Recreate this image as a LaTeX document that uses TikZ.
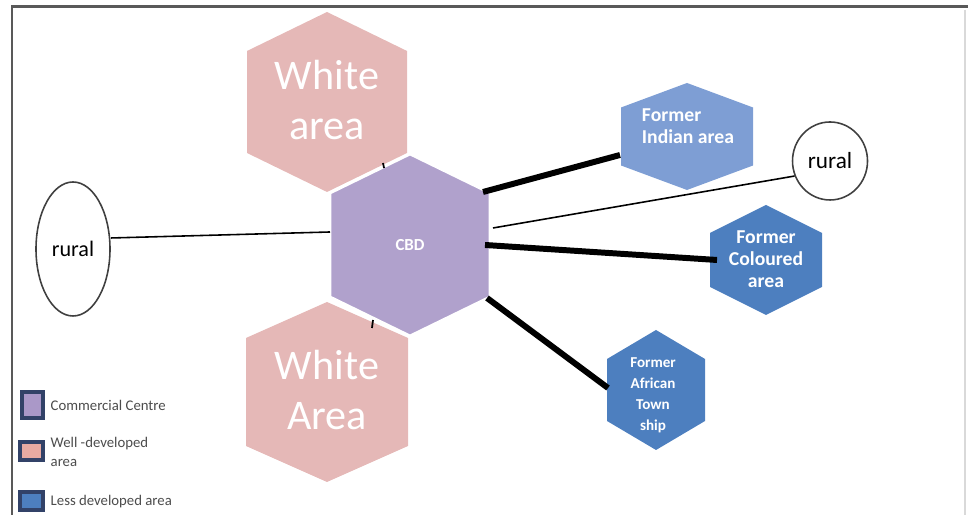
\documentclass[tikz,border=0pt]{standalone}
\usepackage{fontspec}
\setmainfont{Carlito}
\usetikzlibrary{shapes.geometric}
\definecolor{pinkarea}{RGB}{229,184,183}
\definecolor{cbdpurple}{RGB}{176,161,204}
\definecolor{lightblue}{RGB}{126,158,212}
\definecolor{darkblue}{RGB}{77,127,191}
\definecolor{keyborder}{RGB}{50,66,104}
\definecolor{keypink}{RGB}{232,170,162}
\definecolor{keypurple}{RGB}{170,152,200}
\begin{document}
\begin{tikzpicture}[
    bigtext/.style={text=white, align=center, font=\fontsize{12}{14.2}\selectfont},
    celltext/.style={text=white, font=\bfseries\fontsize{5.6}{6.3}\selectfont},
    smalltext/.style={text=white, align=center, font=\bfseries\fontsize{4.3}{6}\selectfont},
    ruraltext/.style={draw=black!75, line width=0.45pt, inner sep=0pt},
    thinlink/.style={line width=0.45pt},
    thicklink/.style={line width=1.7pt},
    keybox/.style={draw=keyborder, line width=0.9pt, inner sep=0pt},
    keytext/.style={text=black!70, align=left, inner sep=0pt, font=\fontsize{4.2}{5.6}\selectfont}
  ]
  \useasboundingbox (0,0) rectangle (9.68,5.15);
  \draw [black!65, line width=0.6pt] (0.12,0) -- (0.12,5.085) -- (9.68,5.085);
  \draw [black!15, line width=0.4pt] (9.65,5.05) -- (9.65,0);

  \fill [pinkarea] (3.27,4.13) +(0,0.9) -- +(0.8,0.51) -- +(0.8,-0.51) -- +(0,-0.9) -- +(-0.8,-0.51) -- +(-0.8,0.51) -- cycle;
  \node [bigtext] (whitetop) at (3.27,4.15) {White\\area};
  \fill [pinkarea] (3.27,1.23) +(0,0.9) -- +(0.81,0.54) -- +(0.81,-0.54) -- +(0,-0.9) -- +(-0.81,-0.54) -- +(-0.81,0.54) -- cycle;
  \node [bigtext] (whitebottom) at (3.27,1.25) {White\\Area};

  \filldraw [fill=cbdpurple, draw=white, line width=0.8pt] (4.10,2.70) +(0,0.91) -- +(0.8,0.52) -- +(0.8,-0.52) -- +(0,-0.91) -- +(-0.8,-0.52) -- +(-0.8,0.52) -- cycle;
  \node [text=white, font=\bfseries\fontsize{4.8}{5.5}\selectfont] (cbd) at (4.10,2.70) {CBD};

  \fill [lightblue] (6.87,3.785) +(0,0.535) -- +(0.66,0.29) -- +(0.66,-0.29) -- +(0,-0.535) -- +(-0.66,-0.29) -- +(-0.66,0.29) -- cycle;
  \node [celltext, align=left] (indian) at (6.88,3.885) {Former\\Indian area};
  \fill [darkblue] (7.66,2.55) +(0,0.55) -- +(0.56,0.27) -- +(0.56,-0.27) -- +(0,-0.55) -- +(-0.56,-0.27) -- +(-0.56,0.27) -- cycle;
  \node [celltext, align=center] (coloured) at (7.66,2.56) {Former\\Coloured\\area};
  \fill [darkblue] (6.56,1.25) +(0,0.6) -- +(0.49,0.31) -- +(0.49,-0.31) -- +(0,-0.6) -- +(-0.49,-0.31) -- +(-0.49,0.31) -- cycle;
  \node [smalltext] (african) at (6.53,1.20) {Former\\African\\Town\\ship};

  \node [ruraltext, ellipse, minimum width=0.74cm, minimum height=1.34cm, font=\fontsize{6.3}{7}\selectfont] (ruralwest) at (0.73,2.66) {rural};
  \node [ruraltext, ellipse, minimum width=0.75cm, minimum height=0.78cm, font=\fontsize{6.6}{7.5}\selectfont] (ruraleast) at (8.30,3.54) {rural};

  \draw [thinlink] ([yshift=0.11cm]ruralwest.east) -- ([shift={(-0.80,0.13)}]cbd.center);
  \draw [thicklink] ([shift={(0.73,0.53)}]cbd.center) -- ([shift={(-0.68,-0.285)}]indian.center);
  \draw [thinlink] ([shift={(0.83,0.17)}]cbd.center) -- (ruraleast.203);
  \draw [thicklink] ([shift={(0.75,0)}]cbd.center) -- ([shift={(-0.49,-0.01)}]coloured.center);
  \draw [thicklink] ([shift={(0.77,-0.53)}]cbd.center) -- ([shift={(-0.45,0.07)}]african.center);

  \draw [line width=0.5pt] (3.83,3.52) -- (3.84,3.47);
  \draw [line width=0.5pt] (3.73,1.95) -- (3.72,1.87);

  \node [keybox, fill=keypurple, minimum width=0.21cm, minimum height=0.26cm] (keycbd) at (0.325,1.10) {};
  \node [keytext] (keycbdtext) at (0.50,1.10) [right] {Commercial Centre};
  \node [keybox, fill=keypink, minimum width=0.23cm, minimum height=0.18cm] (keywhite) at (0.315,0.64) {};
  \node [keytext] (keywhitetext) at (0.50,0.63) [right] {Well -developed\\area};
  \node [keybox, fill=darkblue, minimum width=0.23cm, minimum height=0.18cm] (keyblue) at (0.315,0.14) {};
  \node [keytext] (keybluetext) at (0.50,0.13) [right] {Less developed area};
\end{tikzpicture}
\end{document}
